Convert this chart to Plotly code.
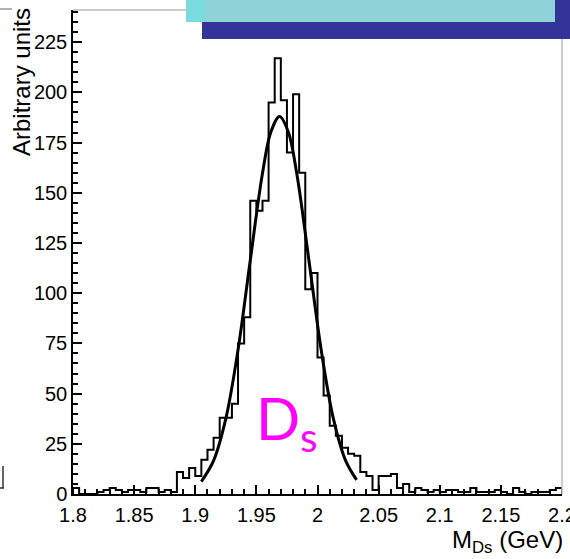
import plotly.graph_objects as go

# ---- data ----
bin_start = 1.8
bin_width = 0.005
counts = [3, 0, 0, 0, 1, 2, 3, 2, 1, 2,
          2, 1, 3, 3, 1, 2, 1, 11, 8, 13,
          9, 17, 22, 28, 38, 38, 45, 75, 88, 146,
          141, 146, 195, 217, 196, 170, 199, 160, 102, 110,
          68, 49, 34, 29, 23, 20, 19, 11, 9, 2,
          9, 9, 10, 3, 5, 1, 3, 2, 1, 2,
          1, 2, 2, 1, 1, 3, 1, 1, 1, 2,
          1, 0, 3, 1, 0, 1, 1, 1, 2, 3]

fit_x = [1.905, 1.915, 1.925, 1.935, 1.945, 1.955, 1.962, 1.969,
         1.976, 1.983, 1.993, 2.003, 2.013, 2.023, 2.032]
fit_y = [6.2, 16.6, 37.5, 71.8, 116.3, 159.7, 180.5, 188.0,
         180.5, 159.7, 116.3, 71.8, 37.5, 16.6, 7.0]

x_tickvals = [1.8, 1.85, 1.9, 1.95, 2.0, 2.05, 2.1, 2.15, 2.2]
x_ticktext = ["1.8", "1.85", "1.9", "1.95", "2", "2.05", "2.1", "2.15", "2.2"]
y_tickvals = [0, 25, 50, 75, 100, 125, 150, 175, 200, 225]

# ---- build step outline ----
edges = [bin_start + i * bin_width for i in range(len(counts) + 1)]
step_x = [edges[0]] + edges[:-1] + [edges[-1], edges[-1]]
step_y = [0] + counts + [counts[-1], 0]

W, H = 570, 559
L, R, T, B = 73, 8, 10, 65
pw, ph = W - L - R, H - T - B


def px(x):
    return (x - L) / pw


def py(y):
    return (H - B - y) / ph


fig = go.Figure()
fig.add_trace(go.Scatter(x=step_x, y=step_y, mode="lines",
                         line=dict(color="black", width=2, shape="hv"),
                         hoverinfo="skip", showlegend=False))
fig.add_trace(go.Scatter(x=fit_x, y=fit_y, mode="lines",
                         line=dict(color="black", width=3, shape="spline"),
                         hoverinfo="skip", showlegend=False))

font = "Liberation Sans, Arial, sans-serif"
fig.update_layout(
    width=W, height=H,
    margin=dict(l=L, r=R, t=T, b=B, autoexpand=False),
    paper_bgcolor="white", plot_bgcolor="white",
    font=dict(family=font, size=20, color="black"),
    showlegend=False,
    xaxis=dict(range=[1.8, 2.2], tickvals=x_tickvals, ticktext=x_ticktext,
               ticks="inside", ticklen=9, tickwidth=1.5, tickcolor="black",
               minor=dict(dtick=0.01, tick0=1.8, ticks="inside", ticklen=5,
                          tickwidth=1.5, tickcolor="black", showgrid=False),
               showline=True, linecolor="black", linewidth=1.5,
               showgrid=False, zeroline=False, tickfont=dict(size=20),
               ticklabeloverflow="allow", ticklabelstandoff=2, automargin=False),
    yaxis=dict(range=[0, 241], tickvals=y_tickvals,
               ticks="inside", ticklen=9, tickwidth=1.5, tickcolor="black",
               minor=dict(dtick=5, tick0=0, ticks="inside", ticklen=5,
                          tickwidth=1.5, tickcolor="black", showgrid=False),
               showline=True, linecolor="black", linewidth=1.5,
               showgrid=False, zeroline=False, tickfont=dict(size=20),
               ticklabeloverflow="allow", automargin=False),
)

shapes = []
# gray frame top & right
shapes.append(dict(type="line", xref="paper", yref="paper", x0=0, x1=1, y0=1, y1=1,
                   line=dict(color="#bbbbbb", width=1.5)))
shapes.append(dict(type="line", xref="paper", yref="paper", x0=1, x1=1, y0=0, y1=1,
                   line=dict(color="#bbbbbb", width=1.5)))
# banner: dark blue shadow and cyan box
shapes.append(dict(type="rect", xref="paper", yref="paper",
                   x0=px(202), x1=px(572), y0=py(39), y1=py(-2),
                   fillcolor="#333399", line=dict(width=0), layer="above"))
shapes.append(dict(type="rect", xref="paper", yref="paper",
                   x0=px(186), x1=px(555), y0=py(22), y1=py(-2),
                   fillcolor="#8fd3d9", line=dict(width=0), layer="above"))
shapes.append(dict(type="rect", xref="paper", yref="paper",
                   x0=px(186), x1=px(205), y0=py(22), y1=py(-2),
                   fillcolor="#7adcdc", line=dict(width=0), layer="above"))
# small slide artifacts on the left edge
shapes.append(dict(type="line", xref="paper", yref="paper",
                   x0=px(0), x1=px(12), y0=py(9), y1=py(9),
                   line=dict(color="#999999", width=1.5)))
shapes.append(dict(type="line", xref="paper", yref="paper",
                   x0=px(3), x1=px(3), y0=py(466), y1=py(488),
                   line=dict(color="#333333", width=1.5)))
shapes.append(dict(type="line", xref="paper", yref="paper",
                   x0=px(0), x1=px(4), y0=py(488), y1=py(488),
                   line=dict(color="#333333", width=1.5)))
fig.update_layout(shapes=shapes)

annotations = [
    dict(text="Arbitrary units", xref="paper", yref="paper",
         x=px(22), y=py(82), xanchor="center", yanchor="middle",
         textangle=-90, showarrow=False, font=dict(family=font, size=24)),
    dict(text="M<sub>Ds</sub> (GeV)", xref="paper", yref="paper",
         x=px(565), y=py(541), xanchor="right", yanchor="middle",
         showarrow=False, font=dict(family=font, size=24)),
    dict(text="D<sub>s</sub>", xref="paper", yref="paper",
         x=px(287), y=py(422), xanchor="center", yanchor="middle",
         showarrow=False, font=dict(family="Lato, sans-serif", size=58, color="#ff00ff")),
]
fig.update_layout(annotations=annotations)

fig.write_html("out.html")
